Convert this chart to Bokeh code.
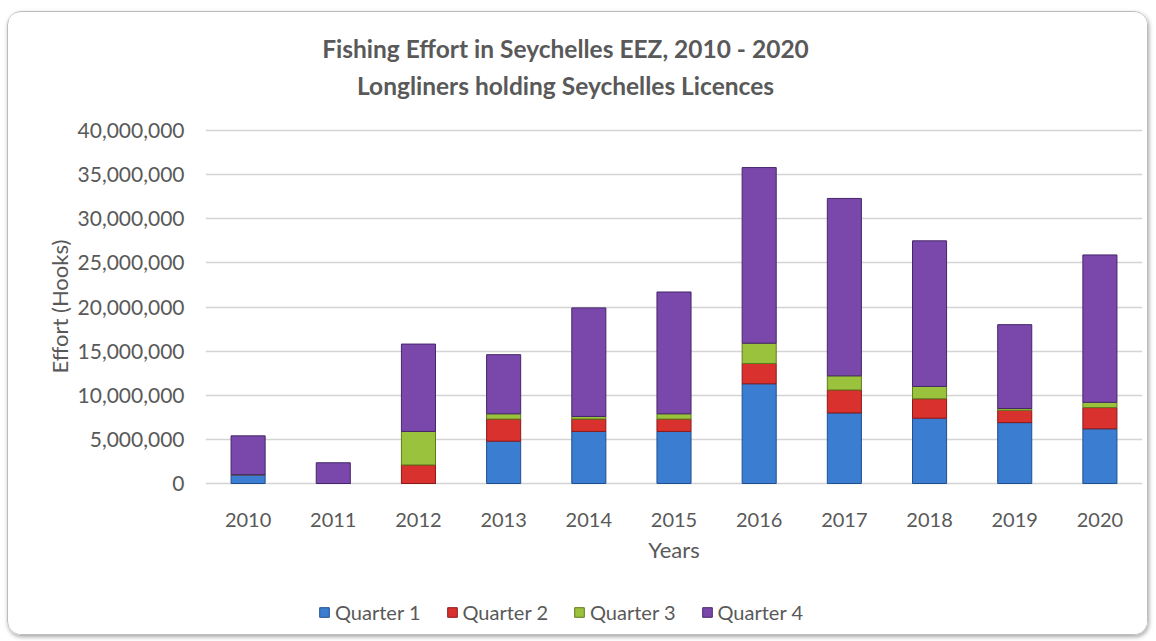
from bokeh.plotting import figure
from bokeh.models import (FactorRange, Range1d, NumeralTickFormatter, FixedTicker,
                          Legend, LegendItem, Label, Title, ColumnDataSource)
from bokeh.embed import file_html
from bokeh.resources import INLINE

# ---- data ----
years = ["2010", "2011", "2012", "2013", "2014", "2015", "2016", "2017", "2018", "2019", "2020"]
quarter_1 = [1000000, 0, 0, 4800000, 5900000, 5900000, 11300000, 8000000, 7400000, 6900000, 6200000]
quarter_2 = [0, 0, 2100000, 2500000, 1400000, 1400000, 2300000, 2600000, 2200000, 1400000, 2400000]
quarter_3 = [0, 0, 3800000, 600000, 300000, 600000, 2300000, 1600000, 1400000, 200000, 600000]
quarter_4 = [4400000, 2350000, 9900000, 6700000, 12300000, 13800000, 19900000, 20100000, 16500000, 9500000, 16700000]
series_names = ["Quarter 1", "Quarter 2", "Quarter 3", "Quarter 4"]
y_ticks = [0, 5000000, 10000000, 15000000, 20000000, 25000000, 30000000, 35000000, 40000000]
title_line_1 = "Fishing Effort in Seychelles EEZ, 2010 - 2020"
title_line_2 = "Longliners holding Seychelles Licences"
y_title = "Effort (Hooks)"
x_title = "Years"

fills = ["#3A7DD1", "#D9312E", "#9BC23C", "#7A48AA"]
outlines = ["#1F4F8F", "#8B1A1A", "#5E7A1E", "#45266A"]
TXT = "#595959"
FONT = "Lato"

source = ColumnDataSource(data=dict(years=years, q1=quarter_1, q2=quarter_2,
                                    q3=quarter_3, q4=quarter_4))

# The frame spans the whole canvas height; the value axis shows 0..40M only,
# the extra range above/below holds the titles, category labels and legend.
p = figure(x_range=FactorRange(*years), y_range=Range1d(-15977000, 53371000),
           width=1141, height=624, output_backend="svg", toolbar_location=None,
           title_location=None,
           min_border_left=197, min_border_right=7, min_border_top=0,
           min_border_bottom=12)
p.styles = {"border": "1px solid #bdbdbd", "border-radius": "14px",
            "box-shadow": "1px 2px 4px rgba(0,0,0,0.35)", "overflow": "hidden",
            "margin-left": "7px", "margin-top": "11px"}
p.background_fill_color = "white"
p.border_fill_color = "white"
p.outline_line_color = None

renderers = p.vbar_stack(["q1", "q2", "q3", "q4"], x="years", width=0.4,
                         source=source, fill_color=fills, line_color=outlines,
                         line_width=1)

# axes
p.yaxis.ticker = FixedTicker(ticks=y_ticks)
p.yaxis.formatter = NumeralTickFormatter(format="0,0")
for ax in (p.xaxis[0], p.yaxis[0]):
    ax.axis_line_color = None
    ax.major_tick_line_color = None
    ax.minor_tick_line_color = None
    ax.major_tick_out = 0
    ax.major_tick_in = 0
    ax.major_label_text_font = FONT
    ax.major_label_text_font_size = "20px"
    ax.major_label_text_color = TXT
    ax.axis_label_text_font = FONT
    ax.axis_label_text_font_size = "22px"
    ax.axis_label_text_font_style = "normal"
    ax.axis_label_text_color = TXT
p.yaxis.major_label_text_font_size = "21px"
p.yaxis.major_label_standoff = 21
p.xaxis.fixed_location = 0
p.xaxis.major_label_standoff = 29
p.xaxis.axis_label = x_title
p.xaxis.axis_label_standoff = 6

# value-axis title, placed along the 0..40M span
p.add_layout(Title(text=y_title, align="left", offset=251, standoff=4,
                   text_font=FONT, text_font_size="22px", text_font_style="normal",
                   text_color=TXT), "left")

p.xgrid.grid_line_color = None
p.ygrid.grid_line_color = "#d4d4d4"
p.ygrid.grid_line_width = 1.5

# titles
p.add_layout(Label(x=4.226, y=49290000, text=title_line_1, text_align="center",
                   text_baseline="middle", text_font=FONT, text_font_style="bold",
                   text_font_size="24.5px", text_color=TXT))
p.add_layout(Label(x=4.226, y=45100000, text=title_line_2, text_align="center",
                   text_baseline="middle", text_font=FONT, text_font_style="bold",
                   text_font_size="24.5px", text_color=TXT))

# legend
legend = Legend(items=[LegendItem(label=n, renderers=[r]) for n, r in zip(series_names, renderers)],
                orientation="horizontal", location=(113, 0),
                label_text_font=FONT, label_text_font_size="20px", label_text_color=TXT,
                glyph_width=12, glyph_height=12, label_standoff=5, spacing=25,
                padding=0, margin=0, border_line_color=None, background_fill_alpha=0)
p.add_layout(legend, "center")

open("out.html", "w").write(file_html(p, INLINE))
